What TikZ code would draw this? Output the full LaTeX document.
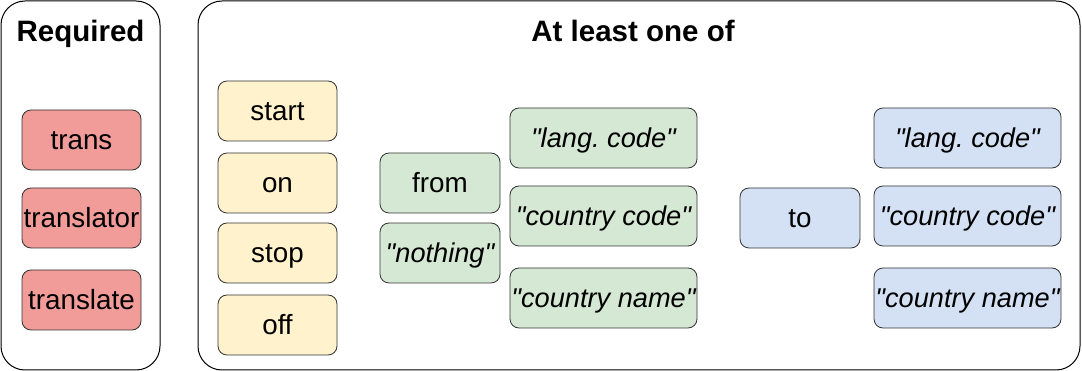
\documentclass[tikz,border=0pt]{standalone}
\usepackage{fontspec}
\setmainfont{Liberation Sans}[Ligatures=TeXOff]
\newcommand{\qt}[1]{"#1"}
\frenchspacing
\begin{document}
\begin{tikzpicture}[x=1pt,y=-1pt,
  every node/.style={inner sep=0pt,outer sep=0pt},
  group/.style={draw=black,line width=1pt,rounded corners=24pt,fill=white},
  title/.style={font=\fontsize{29.5}{33}\selectfont\bfseries,
    text height=21pt,text depth=0pt},
  item/.style={draw=black!80,line width=0.8pt,rounded corners=9pt,
    font=\fontsize{27.8}{31}\selectfont,anchor=north west,
    text height=20pt,text depth=0pt},
  quoted/.style={item,font=\fontsize{27.2}{31}\selectfont\itshape},
  req/.style={fill=red1},
  sw/.style={fill=yellow1},
  src/.style={fill=green1},
  dst/.style={fill=blue1}]
\definecolor{red1}{HTML}{F19C99}
\definecolor{yellow1}{HTML}{FFF2CC}
\definecolor{green1}{HTML}{D5E8D4}
\definecolor{blue1}{HTML}{D4E1F5}
\useasboundingbox (0,0) rectangle (1082,371);

% containers
\draw[group] (1,1) rectangle (160,370);
\draw[group] (198,1) rectangle (1080,370);
\node[title] (reqt) at (80.5,31.5) {Required};
\node[title] (anyt) at (633,31.5) {At least one of};

% required keywords
\node[item,req,minimum width=119pt,minimum height=60pt] (trans) at (22,110) {trans};
\node[item,req,minimum width=119pt,minimum height=60pt] (translator) at (22,188) {translator};
\node[item,req,minimum width=119pt,minimum height=60pt] (translate) at (22,270) {translate};

% switches
\node[item,sw,minimum width=119pt,minimum height=60pt] (start) at (218,81) {start};
\node[item,sw,minimum width=119pt,minimum height=60pt] (on) at (218,153) {on};
\node[item,sw,minimum width=119pt,minimum height=60pt] (stop) at (218,223) {stop};
\node[item,sw,minimum width=119pt,minimum height=60pt] (off) at (218,295) {off};

% source language
\node[item,src,minimum width=120pt,minimum height=60pt] (from) at (380,153) {from};
\node[quoted,src,minimum width=120pt,minimum height=60pt] (nothing) at (380,223) {\qt{nothing}};
\node[quoted,src,minimum width=187pt,minimum height=60pt] (slang) at (510,108) {\qt{lang. code}};
\node[quoted,src,minimum width=187pt,minimum height=60pt] (scode) at (510,186) {\qt{country code}};
\node[quoted,src,minimum width=187pt,minimum height=60pt] (sname) at (510,268) {\qt{country name}};

% target language
\node[item,dst,minimum width=120pt,minimum height=60pt] (to) at (740,188) {to};
\node[quoted,dst,minimum width=187pt,minimum height=60pt] (tlang) at (874,108) {\qt{lang. code}};
\node[quoted,dst,minimum width=187pt,minimum height=60pt] (tcode) at (874,186) {\qt{country code}};
\node[quoted,dst,minimum width=187pt,minimum height=60pt] (tname) at (874,268) {\qt{country name}};
\end{tikzpicture}
\end{document}
